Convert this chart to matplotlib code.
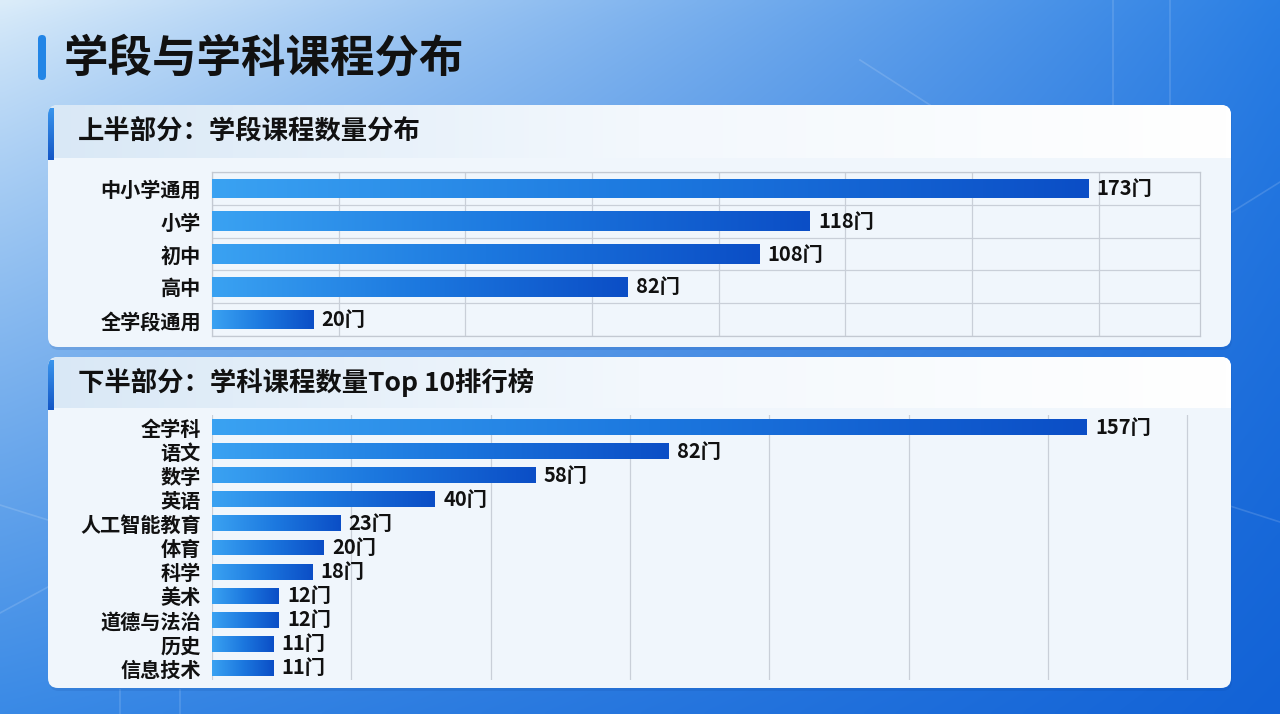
import numpy as np
import matplotlib
matplotlib.use("Agg")
import matplotlib.pyplot as plt
from matplotlib.patches import FancyBboxPatch
from matplotlib.colors import LinearSegmentedColormap, to_rgb
from matplotlib.ticker import MultipleLocator

plt.rcParams['font.family'] = ['Noto Sans CJK SC', 'DejaVu Sans']

title = "学段与学科课程分布"
top_header = "上半部分：学段课程数量分布"
bottom_header = "下半部分：学科课程数量Top 10排行榜"

stages = ["中小学通用", "小学", "初中", "高中", "全学段通用"]
stage_counts = [173, 118, 108, 82, 20]

subjects = ["全学科", "语文", "数学", "英语", "人工智能教育", "体育", "科学",
            "美术", "道德与法治", "历史", "信息技术"]
subject_counts = [157, 82, 58, 40, 23, 20, 18, 12, 12, 11, 11]

W, H = 1280, 714
fig = plt.figure(figsize=(W / 100, H / 100), dpi=100)
bg = fig.add_axes([0, 0, 1, 1])
bg.set_xlim(0, W)
bg.set_ylim(H, 0)
bg.axis("off")

# background gradient
tl, tr = np.array(to_rgb("#dcedfa")), np.array(to_rgb("#2a7fe4"))
bl, br = np.array(to_rgb("#3a8ae6")), np.array(to_rgb("#1262d6"))
gx = np.linspace(0, 1, 256) ** 1.0
gy = np.linspace(0, 1, 144) ** 0.8
X, Y = np.meshgrid(gx, gy)
img = ((1 - X)[..., None] * (1 - Y)[..., None] * tl + X[..., None] * (1 - Y)[..., None] * tr
       + (1 - X)[..., None] * Y[..., None] * bl + X[..., None] * Y[..., None] * br)
bg.imshow(img, extent=[0, W, H, 0], aspect="auto", zorder=0, interpolation="bicubic")

# faint decorative lines
for xs, ys in [([1232, 1280], [212, 182]), ([1180, 1280], [490, 522]),
               ([0, 48], [613, 587]), ([0, 48], [505, 520]),
               ([1113, 1113], [0, 105]), ([1170, 1170], [0, 105]),
               ([120, 120], [690, 714]), ([180, 180], [690, 714]),
               ([860, 930], [60, 105])]:
    bg.plot(xs, ys, color="white", lw=1.2, alpha=0.14, zorder=1)

# title
bg.add_patch(FancyBboxPatch((38, 35), 8, 45, boxstyle="round,pad=0,rounding_size=4",
                            fc="#2285e6", ec="none", zorder=2))
bg.text(64, 58, title, fontsize=32, fontweight="bold", color="#111111",
        va="center", ha="left", zorder=3)

header_cmap = LinearSegmentedColormap.from_list("hdr", ["#d9e8f6", "#f3f8fd", "#ffffff"])
accent_cmap = LinearSegmentedColormap.from_list("acc", ["#3a95ec", "#1356c6"])


def panel(x0, y0, x1, y1, hy, text):
    shadow = FancyBboxPatch((x0 + 1, y0 + 3), x1 - x0, y1 - y0,
                            boxstyle="round,pad=0,rounding_size=10",
                            fc="#0b3c8c", ec="none", alpha=0.12, zorder=2)
    bg.add_patch(shadow)
    p = FancyBboxPatch((x0, y0), x1 - x0, y1 - y0,
                       boxstyle="round,pad=0,rounding_size=10",
                       fc="#f0f6fc", ec="none", zorder=3)
    bg.add_patch(p)
    hg = np.linspace(0, 1, 256).reshape(1, -1)
    im = bg.imshow(hg, cmap=header_cmap, extent=[x0, x1, hy, y0], aspect="auto", zorder=4)
    im.set_clip_path(p)
    ag = np.linspace(0, 1, 64).reshape(-1, 1)
    im2 = bg.imshow(ag, cmap=accent_cmap, extent=[x0, x0 + 6, hy + 2, y0 + 3], aspect="auto", zorder=5)
    im2.set_clip_path(p)
    bg.text(x0 + 30, (y0 + hy) / 2, text, fontsize=19, fontweight="bold", color="#111111",
            va="center", ha="left", zorder=6)


panel(48, 105, 1231, 347, 158, top_header)
panel(48, 357, 1231, 688, 408, bottom_header)
bg.set_xlim(0, W)
bg.set_ylim(H, 0)

bar_cmap = LinearSegmentedColormap.from_list("bar", ["#3aa2f2", "#1c78df", "#0b4ec6"])
grad = np.linspace(0, 1, 256).reshape(1, -1)


def draw_bars(ax, labels, vals, height, xmax, lab_size, val_size):
    pos = np.arange(len(labels))
    bars = ax.barh(pos, vals, height=height, color="none", zorder=3)
    for b in bars:
        x0, y0 = b.get_x(), b.get_y()
        im = ax.imshow(grad, cmap=bar_cmap, aspect="auto", zorder=3,
                       extent=[x0, x0 + b.get_width(), y0 + b.get_height(), y0])
        im.set_clip_path(b)
    for p, v in zip(pos, vals):
        ax.annotate(f"{v}门", (v, p), xytext=(6, 0), textcoords="offset points",
                    va="center", ha="left", fontsize=val_size, fontweight="bold",
                    color="#111111", zorder=5)
    ax.set_xlim(0, xmax)
    ax.set_ylim(len(labels) - 0.5, -0.5)
    ax.set_yticks(pos)
    ax.set_yticklabels(labels, fontsize=lab_size, fontweight="bold", color="#111111")
    ax.xaxis.set_major_locator(MultipleLocator(25))
    ax.set_xticklabels([])
    ax.tick_params(length=0)
    ax.set_facecolor("none")
    ax.set_axisbelow(True)
    ax.grid(axis="x", color="#c9cfd8", lw=0.9)


# top chart
ax1 = fig.add_axes([212 / W, 1 - 336 / H, 988 / W, 164 / H], zorder=5)
draw_bars(ax1, stages, stage_counts, 0.6, 195, 14.5, 14.5)
ax1.set_yticks(np.arange(len(stages) + 1) - 0.5, minor=True)
ax1.grid(axis="y", which="minor", color="#c9cfd8", lw=0.9)
ax1.tick_params(axis="y", which="both", length=0, pad=8)
for s in ax1.spines.values():
    s.set_color("#c3c9d2")
    s.set_linewidth(0.9)

# bottom chart
ax2 = fig.add_axes([212 / W, 1 - 680 / H, 988 / W, 265 / H], zorder=5)
draw_bars(ax2, subjects, subject_counts, 0.66, 177.3, 14.5, 14.5)
ax2.tick_params(axis="y", length=0, pad=8)
for s in ax2.spines.values():
    s.set_visible(False)

fig.savefig("out.png", dpi=100)
